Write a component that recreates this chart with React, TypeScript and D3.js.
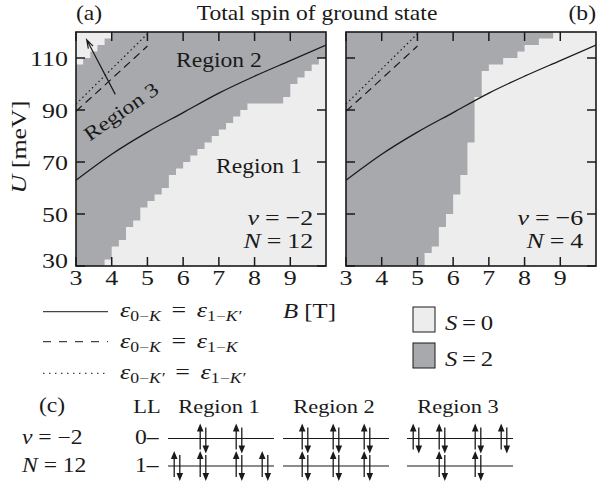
import React from "react";
import * as d3 from "d3";

const xTicks = [3, 4, 5, 6, 7, 8, 9];
const yTicks = [30, 50, 70, 90, 110];

// grid of the maps: B columns 3.0, 3.2 ... 9.8 T, U rows 30, 32.5 ... 117.5 meV
const bStep = 0.2;
const uStep = 2.5;

// (a) nu=-2, N=12: U above which the ground state is S=2, per B column
const edgeA = [30, 30, 30, 30, 32.5, 37.5, 40, 45, 47.5, 52.5, 55, 57.5, 60, 65, 67.5, 70, 72.5, 75, 77.5, 80, 82.5, 85, 87.5, 90, 92.5, 92.5, 92.5, 92.5, 92.5, 95, 100, 102.5, 105, 107.5, 110];
// (a) S=0 pocket in the top left corner (region 3): U row and B edge
const pocketU = [107.5, 110, 112.5, 115, 117.5];
const pocketB = [3.2, 3.4, 3.6, 3.8, 4.0];
// (b) nu=-6, N=4: B below which the ground state is S=2, per U row
const edgeB = [5.2, 5.2, 5.4, 5.6, 5.6, 5.6, 5.8, 5.8, 6.0, 6.0, 6.0, 6.2, 6.2, 6.2, 6.4, 6.4, 6.4, 6.4, 6.4, 6.6, 6.6, 6.6, 6.6, 6.6, 6.6, 6.6, 6.8, 6.8, 6.8, 6.8, 7.0, 7.4, 7.8, 8.0, 8.4, 8.8];

// level crossing lines
const solidB = [3, 4, 5, 6, 7, 8, 9, 10];
const solidU = [63, 73, 81.5, 89, 96.5, 103, 109, 115];
const dashB = [3, 4, 5];
const dashU = [89.5, 102, 114.6];
const dotB = [3, 4, 5];
const dotU = [92.3, 105.8, 119.3];

// (c) filled spin pairs in LL 0 and LL 1
const regionNames = ["Region 1", "Region 2", "Region 3"];
const occLL0 = [[0, 1, 1, 0], [1, 1, 1], [1, 1, 1, 1]];
const occLL1 = [[1, 1, 1, 1], [1, 1, 1], [0, 1, 1, 0]];

const FONT = "'Liberation Serif', 'Times New Roman', serif";
const SX = 1.18; // the reference type is wider than Times
const INK = "#1a1a1a";
const LIGHT = "#ededed";
const DARK = "#a8a9ac";

function Txt({ x, y, size = 20, anchor = "start", rot = 0, children }: any) {
  return (
    <text
      transform={`translate(${x},${y}) rotate(${rot}) scale(${SX},1)`}
      fontSize={size}
      textAnchor={anchor}
      fontFamily={FONT}
      fill={INK}
    >
      {children}
    </text>
  );
}

const I = ({ children, ...p }: any) => (
  <tspan fontStyle="italic" {...p}>
    {children}
  </tspan>
);

function Panel({ left, kind }: { left: number; kind: "a" | "b" }) {
  const x = d3.scaleLinear().domain([3, 10]).range([left, left + 250]);
  const y = d3.scaleLinear().domain([30, 120]).range([266, 32]);
  const box = (b0: number, b1: number, u0: number, u1: number) =>
    `M${x(b0)},${y(u1)}H${x(b1)}V${y(u0)}H${x(b0)}Z`;

  let darkPath = "";
  let pocketPath = "";
  if (kind === "a") {
    darkPath = edgeA.map((u, i) => box(3 + i * bStep, 3 + (i + 1) * bStep, u, 120)).join("");
    pocketPath = pocketU.map((u, j) => box(3, pocketB[j], u, u + uStep)).join("");
  } else {
    darkPath = edgeB.map((b, j) => box(3, b, 30 + j * uStep, 30 + (j + 1) * uStep)).join("");
  }

  const mk = (bs: number[], us: number[]) =>
    d3
      .line<number>()
      .x((d) => x(d))
      .y((d, i) => y(us[i]))
      .curve(d3.curveMonotoneX)(bs) as string;

  const clip = `clip-${kind}`;
  const tick = 9;

  // arrow pointing into region 3 (panel a)
  const t0 = [x(4.1), y(96)];
  const t1 = [x(3.3), y(117)];
  const ang = Math.atan2(t1[1] - t0[1], t1[0] - t0[0]);
  const head = (s: number) => [t1[0] - 9 * Math.cos(ang + s), t1[1] - 9 * Math.sin(ang + s)];
  const h1 = head(0.3);
  const h2 = head(-0.3);

  return (
    <g>
      <defs>
        <clipPath id={clip}>
          <rect x={x(3)} y={y(120)} width={x(10) - x(3)} height={y(30) - y(120)} />
        </clipPath>
      </defs>
      <rect x={x(3)} y={y(120)} width={x(10) - x(3)} height={y(30) - y(120)} fill={LIGHT} />
      <path d={darkPath} fill={DARK} />
      {pocketPath && <path d={pocketPath} fill={LIGHT} />}
      <g clipPath={`url(#${clip})`} fill="none" stroke={INK}>
        <path d={mk(solidB, solidU)} strokeWidth={1.3} />
        <path d={mk(dashB, dashU)} strokeWidth={1.2} strokeDasharray="8,5" />
        <path d={mk(dotB, dotU)} strokeWidth={1.2} strokeDasharray="1.5,3" />
      </g>
      {xTicks.map((t) => (
        <g key={"x" + t} stroke={INK} strokeWidth={1.5}>
          <line x1={x(t)} x2={x(t)} y1={y(30)} y2={y(30) - tick} />
          <line x1={x(t)} x2={x(t)} y1={y(120)} y2={y(120) + tick} />
        </g>
      ))}
      {yTicks.map((t) => (
        <g key={"y" + t} stroke={INK} strokeWidth={1.5}>
          <line x1={x(3)} x2={x(3) + tick} y1={y(t)} y2={y(t)} />
          <line x1={x(10)} x2={x(10) - tick} y1={y(t)} y2={y(t)} />
        </g>
      ))}
      <rect
        x={x(3)}
        y={y(120)}
        width={x(10) - x(3)}
        height={y(30) - y(120)}
        fill="none"
        stroke={INK}
        strokeWidth={1.6}
      />
      {xTicks.map((t) => (
        <Txt key={"xl" + t} x={x(t)} y={285} size={22} anchor="middle">
          {t}
        </Txt>
      ))}
      {kind === "a" &&
        yTicks.map((t) => (
          <Txt key={"yl" + t} x={68} y={y(t) + (t === 30 ? 2 : 8)} size={22} anchor="end">
            {t}
          </Txt>
        ))}
      {kind === "a" && (
        <g>
          <path
            d={`M${t0[0]},${t0[1]}L${t1[0]},${t1[1]}M${h1[0]},${h1[1]}L${t1[0]},${t1[1]}L${h2[0]},${h2[1]}`}
            fill="none"
            stroke={INK}
            strokeWidth={1.2}
          />
          <Txt x={x(7.0)} y={y(106.5)} anchor="middle">Region 2</Txt>
          <Txt x={x(8.12)} y={y(65.7)} anchor="middle">Region 1</Txt>
          <Txt x={x(4.37)} y={y(87.3)} anchor="middle" rot={-35}>Region 3</Txt>
          <Txt x={x(9.64)} y={y(45.8)} size={22} anchor="end">
            <I>ν</I>
            <tspan dx={5}>=</tspan>
            <tspan dx={5}>−2</tspan>
          </Txt>
          <Txt x={x(9.64)} y={y(36.9)} size={22} anchor="end">
            <I>N</I>
            <tspan dx={5}>=</tspan>
            <tspan dx={5}>12</tspan>
          </Txt>
        </g>
      )}
      {kind === "b" && (
        <g>
          <Txt x={x(9.64)} y={y(45.8)} size={22} anchor="end">
            <I>ν</I>
            <tspan dx={5}>=</tspan>
            <tspan dx={5}>−6</tspan>
          </Txt>
          <Txt x={x(9.64)} y={y(36.9)} size={22} anchor="end">
            <I>N</I>
            <tspan dx={5}>=</tspan>
            <tspan dx={5}>4</tspan>
          </Txt>
        </g>
      )}
    </g>
  );
}

function Eq({ x, y, a, b }: { x: number; y: number; a: string[]; b: string[] }) {
  return (
    <Txt x={x} y={y} size={22}>
      <I>ε</I>
      <tspan fontSize={15} dy={4}>{a[0]}</tspan>
      <I fontSize={15}>{a[1]}</I>
      <tspan dy={-4} dx={9}>=</tspan>
      <I dx={9}>ε</I>
      <tspan fontSize={15} dy={4}>{b[0]}</tspan>
      <I fontSize={15}>{b[1]}</I>
    </Txt>
  );
}

function Pair({ cx, ly }: { cx: number; ly: number }) {
  const ux = cx - 2.8;
  const dx = cx + 2.8;
  return (
    <g>
      <line x1={ux} x2={ux} y1={ly + 11} y2={ly - 8} stroke={INK} strokeWidth={1.3} />
      <path d={`M${ux},${ly - 15}L${ux - 3.3},${ly - 7}L${ux + 3.3},${ly - 7}Z`} fill={INK} />
      <line x1={dx} x2={dx} y1={ly - 11} y2={ly + 8} stroke={INK} strokeWidth={1.3} />
      <path d={`M${dx},${ly + 15}L${dx - 3.3},${ly + 7}L${dx + 3.3},${ly + 7}Z`} fill={INK} />
    </g>
  );
}

function Levels() {
  const centers = [221, 336, 460];
  const offsets = (n: number) => (n === 4 ? [-44, -18, 18, 44] : [-31, 0, 31]);
  const levelY = [438.5, 466];
  const occ = [occLL0, occLL1];
  return (
    <g>
      <Txt x={52} y={412} anchor="middle">(c)</Txt>
      <Txt x={147} y={413} size={19} anchor="middle">LL</Txt>
      {regionNames.map((r, i) => (
        <Txt key={r} x={centers[i] - 2} y={413} size={19} anchor="middle">
          {r}
        </Txt>
      ))}
      <Txt x={22} y={444}>
        <I>ν</I>
        <tspan dx={5}>=</tspan>
        <tspan dx={5}>−2</tspan>
      </Txt>
      <Txt x={22} y={472}>
        <I>N</I>
        <tspan dx={5}>=</tspan>
        <tspan dx={5}>12</tspan>
      </Txt>
      <Txt x={135} y={444}>0–</Txt>
      <Txt x={135} y={472}>1–</Txt>
      {levelY.map((ly, l) =>
        centers.map((c, r) => (
          <g key={`${l}-${r}`}>
            <line x1={c - 53} x2={c + 53} y1={ly} y2={ly} stroke={INK} strokeWidth={1.2} />
            {occ[l][r].map((o, s) =>
              o ? <Pair key={s} cx={c + offsets(occ[l][r].length)[s]} ly={ly} /> : null
            )}
          </g>
        ))
      )}
    </g>
  );
}

export default function App() {
  return (
    <svg
      width={597}
      height={504}
      style={{ position: "absolute", left: 0, top: 0, background: "#fff" }}
    >
      <rect width={597} height={504} fill="#fff" />
      <Txt x={76} y={20}>(a)</Txt>
      <Txt x={596} y={20} anchor="end">(b)</Txt>
      <Txt x={317} y={20} anchor="middle">Total spin of ground state</Txt>
      <Txt x={26} y={147} size={22} anchor="middle" rot={-90}>
        <I>U</I> [meV]
      </Txt>
      <Panel left={76} kind="a" />
      <Panel left={346} kind="b" />

      {/* legend of the crossing lines */}
      <g fill="none" stroke="#444" strokeWidth={1.3}>
        <line x1={43} x2={108} y1={311.7} y2={311.7} />
        <line x1={43} x2={108} y1={341.7} y2={341.7} strokeDasharray="8,8" />
        <line x1={43} x2={108} y1={373.3} y2={373.3} strokeDasharray="1.5,4.5" />
      </g>
      <Eq x={120} y={317} a={["0−", "K"]} b={["1−", "K′"]} />
      <Eq x={120} y={348} a={["0−", "K"]} b={["1−", "K"]} />
      <Eq x={120} y={379} a={["0−", "K′"]} b={["1−", "K′"]} />
      <Txt x={283} y={318} size={21}>
        <I>B</I> [T]
      </Txt>

      {/* legend of the spin */}
      <rect x={413} y={307} width={22} height={25} fill={LIGHT} stroke={INK} strokeWidth={1} />
      <rect x={413} y={343} width={22} height={25} fill={DARK} stroke={INK} strokeWidth={1} />
      <Txt x={445} y={330} size={21}>
        <I>S</I>
        <tspan dx={4}>=</tspan>
        <tspan dx={4}>0</tspan>
      </Txt>
      <Txt x={445} y={366} size={21}>
        <I>S</I>
        <tspan dx={4}>=</tspan>
        <tspan dx={4}>2</tspan>
      </Txt>

      <Levels />
    </svg>
  );
}
